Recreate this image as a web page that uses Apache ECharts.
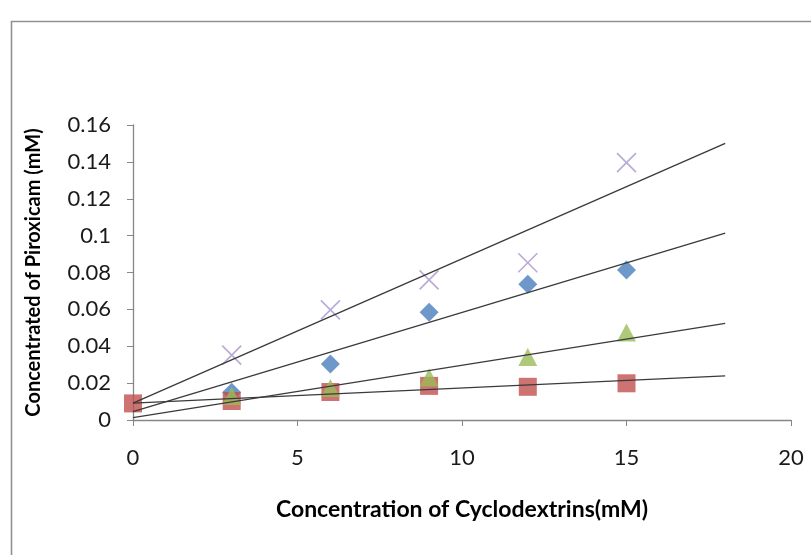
<!DOCTYPE html>
<html>
<head>
<meta charset="utf-8">
<title>Piroxicam phase solubility</title>
<script src="https://cdn.jsdelivr.net/npm/echarts@6/dist/echarts.min.js"></script>
<style>
  html, body { margin: 0; padding: 0; background: #ffffff; }
  #chart { width: 811px; height: 555px; }
</style>
</head>
<body>
<div id="chart"></div>
<script>
// values
const xValues = [0, 3, 6, 9, 12, 15]
const xValuesNoZero = [3, 6, 9, 12, 15]
const blueValues = [0.015, 0.0304, 0.0584, 0.0736, 0.0814]
const redValues = [0.009, 0.0103, 0.0152, 0.0185, 0.018, 0.0199]
const greenValues = [0.013, 0.0173, 0.023, 0.0342, 0.0475]
const purpleValues = [0.0352, 0.0597, 0.076, 0.0853, 0.1396]

// linear trendlines, start and end (x = 0 and x = 18)
const trendX = [0, 18]
const blueTrend = [0.0045, 0.1013]
const redTrend = [0.0092, 0.0239]
const greenTrend = [0.0013, 0.0524]
const purpleTrend = [0.0092, 0.150]

const xTicks = { min: 0, max: 20, interval: 5 }
const yTicks = { min: 0, max: 0.16, interval: 0.02 }

const FONT = 'Lato'
const AXIS_GRAY = '#868686'
const TREND_COLOR = '#3a3a3a'

function pairs(xs, ys) {
  return ys.map((y, i) => [xs[i], y])
}

function trendSeries(ys) {
  return {
    type: 'line',
    data: pairs(trendX, ys),
    showSymbol: false,
    silent: true,
    z: 5,
    lineStyle: { color: TREND_COLOR, width: 1.3 }
  }
}

const chart = echarts.init(document.getElementById('chart'))

chart.setOption({
  backgroundColor: '#ffffff',
  animation: false,
  graphic: [{
    type: 'rect',
    shape: { x: 11.5, y: 21.5, width: 1000, height: 1000 },
    style: { fill: 'none', stroke: '#929292', lineWidth: 1.6 },
    silent: true
  }],
  grid: { left: 133, right: 20, top: 125, bottom: 135 },
  xAxis: {
    type: 'value',
    min: xTicks.min,
    max: xTicks.max,
    interval: xTicks.interval,
    name: 'Concentration of Cyclodextrins(mM)',
    nameLocation: 'middle',
    nameGap: 78,
    nameTextStyle: { fontFamily: FONT, fontWeight: 'bold', fontSize: 23, color: '#000', verticalAlign: 'top' },
    splitLine: { show: false },
    axisLine: { lineStyle: { color: AXIS_GRAY, width: 1.3 } },
    axisTick: { show: true, length: 6, lineStyle: { color: AXIS_GRAY } },
    axisLabel: { fontFamily: FONT, fontSize: 22, color: '#1a1a1a', margin: 27 }
  },
  yAxis: {
    type: 'value',
    min: yTicks.min,
    max: yTicks.max,
    interval: yTicks.interval,
    name: 'Concentrated of Piroxicam (mM)',
    nameLocation: 'middle',
    nameRotate: 90,
    nameGap: 89,
    nameTextStyle: { fontFamily: FONT, fontWeight: 'bold', fontSize: 20, color: '#000' },
    splitLine: { show: false },
    axisLine: { show: true, lineStyle: { color: AXIS_GRAY, width: 1.3 } },
    axisTick: { show: true, length: 6, lineStyle: { color: AXIS_GRAY } },
    axisLabel: { fontFamily: FONT, fontSize: 22, color: '#1a1a1a', margin: 22 }
  },
  series: [
    {
      type: 'scatter',
      data: pairs(xValuesNoZero, blueValues),
      symbol: 'diamond',
      symbolSize: 19,
      itemStyle: { color: '#4a7ebb' }
    },
    {
      type: 'scatter',
      data: pairs(xValues, redValues),
      symbol: 'rect',
      symbolSize: 18,
      itemStyle: { color: '#c0504d' }
    },
    {
      type: 'scatter',
      data: pairs(xValuesNoZero, greenValues),
      symbol: 'triangle',
      symbolSize: [19, 18],
      itemStyle: { color: '#9bbb59' }
    },
    {
      type: 'scatter',
      data: pairs(xValuesNoZero, purpleValues),
      symbol: 'path://M0,0L10,10M10,0L0,10',
      symbolSize: 19,
      itemStyle: { color: 'none', borderColor: '#a795c9', borderWidth: 1.6 }
    },
    trendSeries(blueTrend),
    trendSeries(redTrend),
    trendSeries(greenTrend),
    trendSeries(purpleTrend)
  ]
})
</script>
</body>
</html>
